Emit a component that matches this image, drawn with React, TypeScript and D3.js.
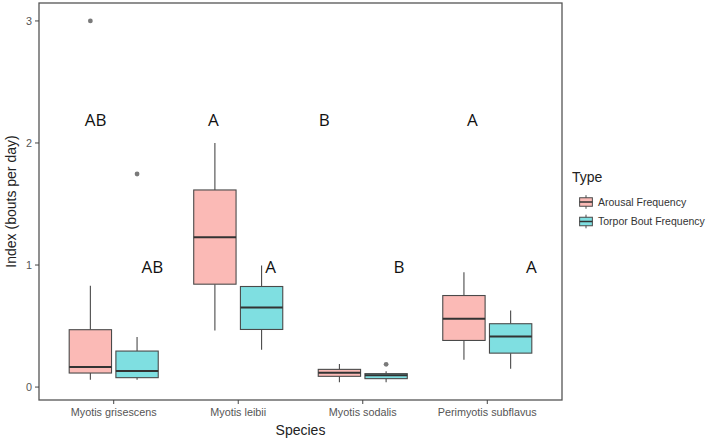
import React from "react";
import * as d3 from "d3";

// ---- data ----
const categories = ["Myotis grisescens", "Myotis leibii", "Myotis sodalis", "Perimyotis subflavus"];
const types = ["Arousal Frequency", "Torpor Bout Frequency"];
// five-number summaries: [lower whisker, q1, median, q3, upper whisker]
const arousalStats = [
  [0.06, 0.115, 0.164, 0.47, 0.83],
  [0.464, 0.843, 1.228, 1.615, 2.0],
  [0.04, 0.088, 0.118, 0.145, 0.19],
  [0.224, 0.382, 0.56, 0.75, 0.94],
];
const torporStats = [
  [0.06, 0.077, 0.131, 0.295, 0.41],
  [0.306, 0.472, 0.652, 0.824, 0.996],
  [0.04, 0.069, 0.096, 0.11, 0.13],
  [0.15, 0.278, 0.415, 0.519, 0.628],
];
const arousalOutliers = [[3.0], [], [], []];
const torporOutliers = [[1.746], [], [0.186], []];
// significance letters: text, x position (category units), y value
const arousalLetters = ["AB", "A", "B", "A"];
const arousalLetterX = [-0.145, 0.8, 1.69, 2.88];
const arousalLetterY = [2.19, 2.19, 2.19, 2.19];
const torporLetters = ["AB", "A", "B", "A"];
const torporLetterX = [0.31, 1.26, 2.29, 3.355];
const torporLetterY = [0.985, 0.985, 0.985, 0.985];
const yTicks = [0, 1, 2, 3];

const W = 708, H = 440;
const P = { left: 39, right: 562, top: 3, bottom: 400 };
const fills = ["#FBBAB6", "#7FDFE1"];
const FONT = "'Liberation Sans', Arial, sans-serif";

export default function App() {
  const x = d3.scaleLinear().domain([-0.6, categories.length - 1 + 0.6]).range([P.left, P.right]);
  const y = d3.scaleLinear().domain([-0.106, 3.147]).range([P.bottom, P.top]);
  const dodge = 0.1875;
  const bw = x(0.34) - x(0);
  const series = [
    { stats: arousalStats, outliers: arousalOutliers, off: -dodge, fill: fills[0] },
    { stats: torporStats, outliers: torporOutliers, off: dodge, fill: fills[1] },
  ];
  const stroke = "#4a4a4a";
  return (
    <svg width={W} height={H} style={{ position: "absolute", left: 0, top: 0, background: "#fff" }} fontFamily={FONT}>
      {series.map((s, si) =>
        s.stats.map((st, ci) => {
          const cx = x(ci + s.off);
          const [lo, q1, med, q3, hi] = st;
          return (
            <g key={`${si}-${ci}`}>
              <line x1={cx} x2={cx} y1={y(hi)} y2={y(q3)} stroke={stroke} strokeWidth={1.1} />
              <line x1={cx} x2={cx} y1={y(q1)} y2={y(lo)} stroke={stroke} strokeWidth={1.1} />
              <rect x={cx - bw / 2} y={y(q3)} width={bw} height={y(q1) - y(q3)} fill={s.fill} stroke={stroke} strokeWidth={1.1} />
              <line x1={cx - bw / 2} x2={cx + bw / 2} y1={y(med)} y2={y(med)} stroke="#333" strokeWidth={2} />
              {s.outliers[ci].map((o, oi) => (
                <circle key={oi} cx={cx} cy={y(o)} r={2.4} fill="#7a7a7a" />
              ))}
            </g>
          );
        })
      )}
      {arousalLetters.map((t, i) => (
        <text key={`al${i}`} x={x(arousalLetterX[i])} y={y(arousalLetterY[i])} dy={6} textAnchor="middle" fontSize={17} fill="#111" fontFamily="'Open Sans', sans-serif">{t}</text>
      ))}
      {torporLetters.map((t, i) => (
        <text key={`tl${i}`} x={x(torporLetterX[i])} y={y(torporLetterY[i])} dy={6} textAnchor="middle" fontSize={17} fill="#111" fontFamily="'Open Sans', sans-serif">{t}</text>
      ))}
      {/* panel border */}
      <rect x={P.left} y={P.top} width={P.right - P.left} height={P.bottom - P.top} fill="none" stroke="#555" strokeWidth={1.3} />
      {/* y axis */}
      {yTicks.map((t) => (
        <g key={`y${t}`}>
          <line x1={P.left - 4} x2={P.left} y1={y(t)} y2={y(t)} stroke="#444" strokeWidth={1} />
          <text x={P.left - 7} y={y(t)} dy="0.35em" textAnchor="end" fontSize={10.8} fill="#555">{t}</text>
        </g>
      ))}
      {/* x axis */}
      {categories.map((c, i) => (
        <g key={c}>
          <line x1={x(i)} x2={x(i)} y1={P.bottom} y2={P.bottom + 4} stroke="#444" strokeWidth={1} />
          <text x={x(i)} y={P.bottom + 16} textAnchor="middle" fontSize={10.8} fill="#555">{c}</text>
        </g>
      ))}
      <text x={(P.left + P.right) / 2} y={435} textAnchor="middle" fontSize={14} fill="#222">Species</text>
      <text transform={`translate(16,${(P.top + P.bottom) / 2}) rotate(-90)`} textAnchor="middle" fontSize={14} fill="#222">Index (bouts per day)</text>
      {/* legend */}
      <text x={572} y={182} fontSize={14} fill="#222">Type</text>
      {types.map((t, i) => {
        const cy = 202 + i * 19.5;
        const cx = 586;
        const k = 17;
        return (
          <g key={t}>
            <line x1={cx} x2={cx} y1={cy - k * 0.4} y2={cy + k * 0.4} stroke={stroke} strokeWidth={1} />
            <rect x={cx - k * 0.375} y={cy - k * 0.25} width={k * 0.75} height={k * 0.5} fill={fills[i]} stroke={stroke} strokeWidth={1} />
            <line x1={cx - k * 0.375} x2={cx + k * 0.375} y1={cy} y2={cy} stroke="#333" strokeWidth={1.5} />
            <text x={598} y={cy} dy="0.35em" fontSize={10.5} fill="#333">{t}</text>
          </g>
        );
      })}
    </svg>
  );
}
